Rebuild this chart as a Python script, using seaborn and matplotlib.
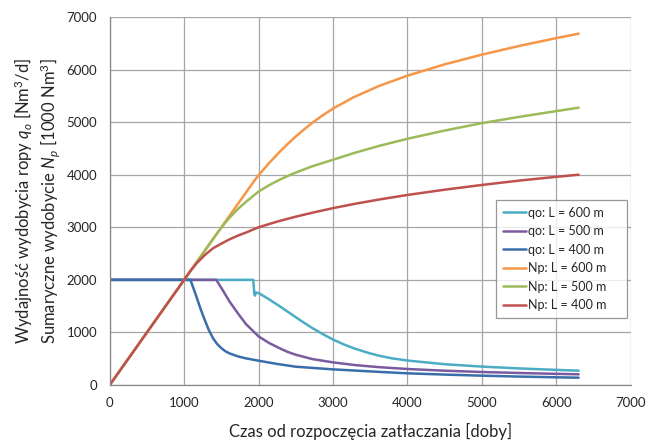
import matplotlib
matplotlib.use('Agg')
import matplotlib.pyplot as plt
import seaborn as sns
import pandas as pd

# --- DANE ---
# wydajnosc qo [Nm3/d]
t_qo_600 = [0, 0, 500, 1000, 1500, 1929, 1942, 1952, 1962, 1975, 2000, 2140, 2276, 2390, 2498, 2610, 2720, 2860, 3000, 3140, 3276, 3476, 3624, 3800, 4000, 4500, 5000, 5500, 6000, 6300]
qo_600 = [0, 2000, 2000, 2000, 2000, 2000, 1734, 1700, 1760, 1755, 1750, 1630, 1505, 1395, 1290, 1185, 1085, 970, 865, 775, 700, 610, 555, 505, 465, 395, 350, 315, 287, 272]

t_qo_500 = [0, 0, 500, 1000, 1431, 1520, 1609, 1720, 1831, 2000, 2140, 2276, 2390, 2498, 2720, 3000, 3300, 3609, 4000, 4500, 5000, 5500, 6000, 6300]
qo_500 = [0, 2000, 2000, 2000, 2000, 1800, 1589, 1367, 1158, 924, 800, 703, 630, 576, 494, 430, 378, 340, 304, 272, 247, 228, 212, 203]

t_qo_400 = [0, 0, 500, 1000, 1084, 1120, 1164, 1220, 1276, 1330, 1387, 1440, 1498, 1550, 1609, 1720, 1831, 2000, 2250, 2498, 3000, 3609, 4000, 4500, 5000, 5500, 6000, 6300]
qo_400 = [0, 2000, 2000, 2000, 2000, 1860, 1684, 1450, 1240, 1050, 892, 785, 703, 645, 601, 545, 506, 462, 400, 348, 297, 250, 222, 198, 177, 160, 146, 139]

# wydobycie sumaryczne Np [1000 Nm3]
t_np_600 = [0, 500, 1000, 1500, 1929, 2000, 2140, 2276, 2390, 2498, 2610, 2720, 2860, 3000, 3276, 3624, 4000, 4500, 5000, 5500, 6000, 6300]
np_600 = [0, 1000, 2000, 3000, 3858, 3990, 4220, 4425, 4585, 4725, 4860, 4985, 5129, 5258, 5473, 5692, 5884, 6099, 6284, 6449, 6599, 6683]

t_np_500 = [0, 500, 1000, 1431, 1520, 1609, 1720, 1831, 2000, 2140, 2276, 2390, 2498, 2720, 3000, 3300, 3624, 4000, 4500, 5000, 5500, 6000, 6300]
np_500 = [0, 1000, 2000, 2862, 3030, 3182, 3345, 3484, 3680, 3800, 3900, 3975, 4040, 4160, 4285, 4420, 4550, 4684, 4840, 4981, 5100, 5210, 5275]

t_np_400 = [0, 500, 1000, 1084, 1164, 1276, 1387, 1500, 1609, 1720, 1831, 2000, 2250, 2500, 2750, 3000, 3300, 3624, 4000, 4500, 5000, 5500, 6000, 6300]
np_400 = [0, 1000, 2000, 2168, 2310, 2470, 2600, 2690, 2770, 2840, 2900, 3000, 3108, 3202, 3286, 3364, 3448, 3529, 3615, 3715, 3805, 3888, 3960, 4000]

series = [
    ('qo: L = 600 m', t_qo_600, qo_600, '#4BACC6'),
    ('qo: L = 500 m', t_qo_500, qo_500, '#7B5BA0'),
    ('qo: L = 400 m', t_qo_400, qo_400, '#3A6EAA'),
    ('Np: L = 600 m', t_np_600, np_600, '#F79646'),
    ('Np: L = 500 m', t_np_500, np_500, '#9BBB59'),
    ('Np: L = 400 m', t_np_400, np_400, '#C0504D'),
]

sns.set_style('white')
plt.rcParams['font.family'] = ['Lato', 'DejaVu Sans']
plt.rcParams['mathtext.fontset'] = 'custom'
plt.rcParams['mathtext.it'] = 'Lato:italic'
plt.rcParams['mathtext.rm'] = 'Lato'

fig = plt.figure(figsize=(6.57, 4.42), dpi=100)
ax = fig.add_axes([0.167, 0.129, 0.793, 0.8325])

for name, t, v, col in series:
    df = pd.DataFrame({'t': t, 'v': v})
    sns.lineplot(data=df, x='t', y='v', ax=ax, color=col, linewidth=1.8,
                 label=name, sort=False, estimator=None)

ax.set_xlim(0, 7000)
ax.set_ylim(0, 7000)
ax.set_xticks(range(0, 7001, 1000))
ax.set_yticks(range(0, 7001, 1000))
ax.tick_params(axis='x', labelsize=9.5, length=0, pad=9)
ax.tick_params(axis='y', labelsize=9.5, length=0, pad=9)
ax.grid(True, color='#A6A6A6', linewidth=0.9)
ax.set_axisbelow(True)
for s in ['top', 'right']:
    ax.spines[s].set_visible(False)
for s in ['left', 'bottom']:
    ax.spines[s].set_color('#868686')
    ax.spines[s].set_linewidth(0.9)

ax.set_xlabel('Czas od rozpoczęcia zatłaczania [doby]', fontsize=12)
ax.xaxis.set_label_coords(0.5, -0.103)
ax.set_ylabel('Wydajność wydobycia ropy $q_o$ [Nm$^3$/d]\nSumaryczne wydobycie $N_p$ [1000 Nm$^3$]',
              fontsize=12, linespacing=1.2)
ax.yaxis.set_label_coords(-0.091, 0.5)

leg = ax.legend(loc='lower left', bbox_to_anchor=(0.741, 0.182, 0.251, 0.31), mode='expand',
                fontsize=9, frameon=True, fancybox=False, handlelength=1.9,
                handletextpad=0.1, borderpad=0.55, labelspacing=0.52, borderaxespad=0)
leg.get_frame().set_edgecolor('#7F7F7F')
leg.get_frame().set_linewidth(0.9)

fig.savefig('out.png', dpi=100)
